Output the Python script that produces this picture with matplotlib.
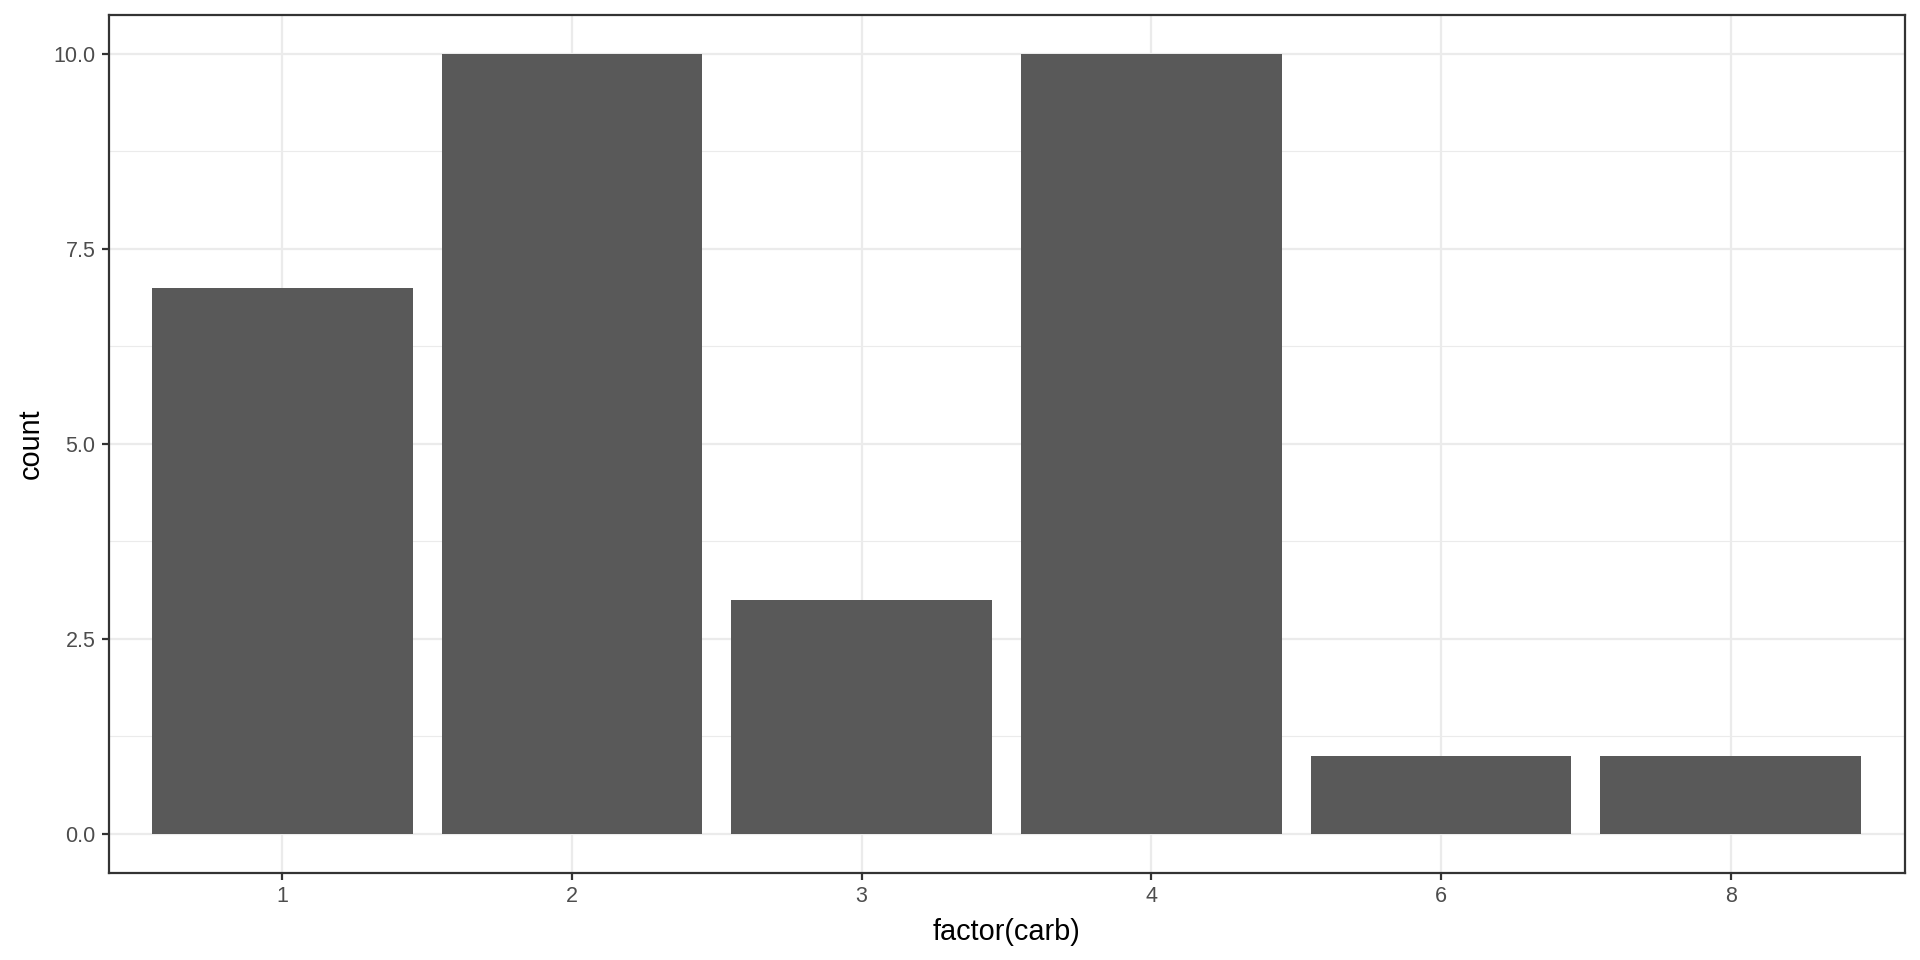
import numpy as np
import matplotlib.pyplot as plt

plt.rcParams['font.family'] = ['Liberation Sans', 'DejaVu Sans']

# counts of mtcars carb levels
carb = ['1', '2', '3', '4', '6', '8']
count = [7, 10, 3, 10, 1, 1]

fig = plt.figure(figsize=(19.2, 9.6), dpi=100)
ax = fig.add_axes([108.5 / 1920, (960 - 872.7) / 960, 1796 / 1920, 858 / 960])

x = np.arange(len(carb))
ax.bar(x, count, width=0.9, color='#595959', zorder=3)

ax.set_xlim(-0.6, len(carb) - 0.4)
ax.set_ylim(-0.5, 10.5)

ax.set_xticks(x)
ax.set_xticklabels(carb)
ax.set_yticks([0, 2.5, 5, 7.5, 10])
ax.set_yticklabels(['0.0', '2.5', '5.0', '7.5', '10.0'])
ax.set_yticks([1.25, 3.75, 6.25, 8.75], minor=True)

ax.grid(True, which='major', color='#EBEBEB', linewidth=1.6, zorder=0)
ax.grid(True, which='minor', axis='y', color='#EBEBEB', linewidth=0.8, zorder=0)
ax.set_axisbelow(True)
ax.tick_params(which='minor', length=0)
ax.tick_params(which='major', length=5, width=1.6, color='#333333',
               labelsize=15.5, labelcolor='#4D4D4D', pad=4.5)

for s in ax.spines.values():
    s.set_color('#333333')
    s.set_linewidth(1.6)

ax.set_xlabel('factor(carb)', fontsize=20.8, color='black', labelpad=8)
ax.set_ylabel('count', fontsize=20.8, color='black', labelpad=6)

fig.savefig('out.png', dpi=100, facecolor='white')
